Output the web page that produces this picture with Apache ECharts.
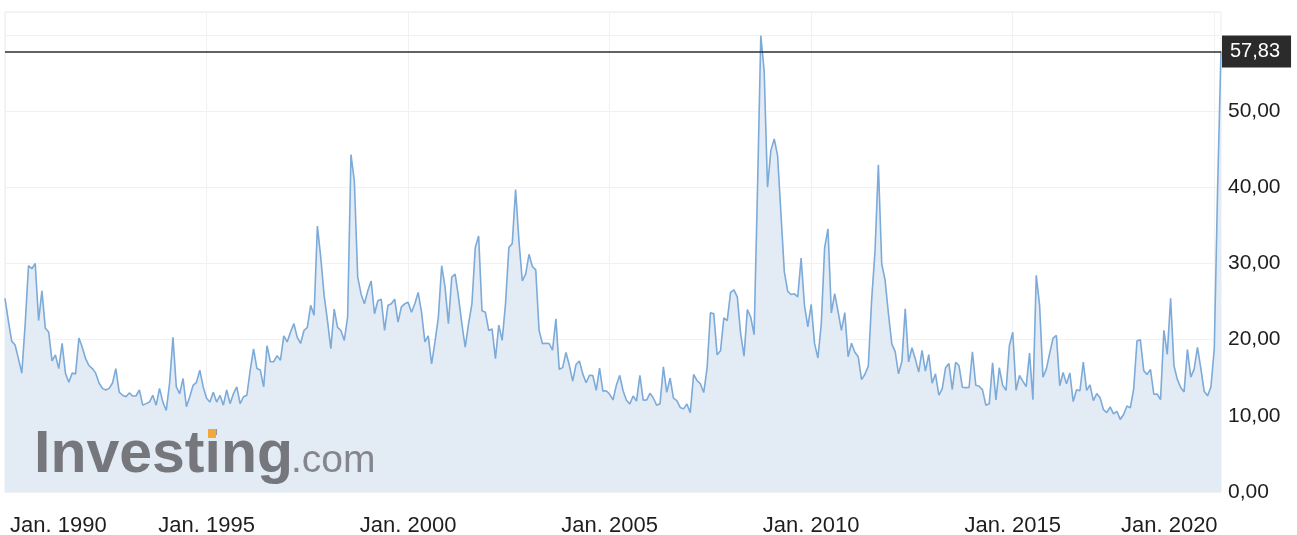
<!DOCTYPE html>
<html>
<head>
<meta charset="utf-8">
<script src="https://cdn.jsdelivr.net/npm/echarts@6/dist/echarts.min.js"></script>
<style>
html, body { margin: 0; padding: 0; background: #ffffff; }
#chart { width: 1297px; height: 535px; }
</style>
</head>
<body>
<div id="chart"></div>
<script>
// Monthly closing values, January 1990 .. March 2020
const startYear = 1990;
const monthNames = ['Jan.', 'Feb.', 'März', 'Apr.', 'Mai', 'Juni', 'Juli', 'Aug.', 'Sept.', 'Okt.', 'Nov.', 'Dez.'];
const v1990 = [25.4, 22.5, 19.8, 19.3, 17.5, 15.6, 22.0, 29.7, 29.3, 30.0, 22.5, 26.4];
const v1991 = [21.5, 21.0, 17.2, 18.0, 16.2, 19.5, 15.6, 14.4, 15.6, 15.5, 20.2, 19.0];
const v1992 = [17.5, 16.6, 16.2, 15.6, 14.3, 13.6, 13.4, 13.6, 14.3, 16.2, 13.1, 12.7];
const v1993 = [12.5, 13.0, 12.6, 12.6, 13.4, 11.4, 11.6, 11.8, 12.7, 11.4, 13.6, 11.8];
const v1994 = [10.7, 14.3, 20.3, 13.8, 12.9, 14.9, 11.2, 12.5, 14.0, 14.4, 16.0, 13.8];
const v1995 = [12.3, 11.8, 13.1, 11.8, 12.7, 11.4, 13.4, 11.6, 12.9, 13.8, 11.6, 12.5];
const v1996 = [12.7, 16.0, 18.8, 16.2, 16.0, 13.8, 19.2, 17.1, 17.1, 17.9, 17.3, 20.5];
const v1997 = [19.7, 21.0, 22.1, 20.3, 19.5, 21.2, 21.6, 24.5, 23.2, 34.9, 30.8, 25.8];
const v1998 = [22.5, 18.8, 24.0, 21.6, 21.2, 19.9, 23.0, 44.3, 40.8, 28.2, 26.0, 24.7];
const v1999 = [26.4, 27.7, 23.4, 25.1, 25.3, 21.2, 24.5, 24.7, 25.3, 22.3, 24.3, 24.7];
const v2000 = [24.9, 23.6, 24.7, 26.2, 23.6, 19.7, 20.5, 16.8, 19.7, 22.9, 29.7, 26.9];
const v2001 = [22.1, 28.2, 28.6, 25.6, 22.1, 19.0, 22.1, 24.7, 32.1, 33.6, 23.8, 23.6];
const v2002 = [21.2, 21.4, 17.5, 21.9, 19.9, 24.7, 32.1, 32.6, 39.7, 33.0, 27.7, 28.6];
const v2003 = [31.2, 29.6, 29.15, 21.2, 19.47, 19.52, 19.49, 18.63, 22.72, 16.1, 16.32, 18.31];
const v2004 = [16.63, 14.55, 16.74, 17.19, 15.5, 14.34, 15.32, 15.29, 13.34, 16.27, 13.24, 13.29];
const v2005 = [12.82, 12.08, 14.02, 15.31, 13.29, 12.04, 11.57, 12.6, 11.92, 15.32, 12.06, 12.07];
const v2006 = [12.95, 12.34, 11.39, 11.59, 16.44, 13.08, 14.95, 12.31, 11.98, 11.1, 10.91, 11.56];
const v2007 = [10.42, 15.42, 14.64, 14.22, 13.05, 16.23, 23.52, 23.38, 18.0, 18.53, 22.87, 22.5];
const v2008 = [26.2, 26.54, 25.61, 20.79, 17.83, 23.95, 22.94, 20.65, 39.39, 59.89, 55.28, 40.0];
const v2009 = [44.84, 46.35, 44.14, 36.5, 28.92, 26.35, 25.92, 26.01, 25.61, 30.69, 24.51, 21.68];
const v2010 = [24.62, 19.5, 17.59, 22.05, 32.07, 34.54, 23.5, 26.05, 23.7, 21.2, 23.54, 17.75];
const v2011 = [19.53, 18.35, 17.74, 14.75, 15.45, 16.52, 25.25, 31.62, 42.96, 29.96, 27.8, 23.4];
const v2012 = [19.44, 18.43, 15.5, 17.15, 24.06, 17.08, 18.93, 17.47, 15.73, 18.6, 15.87, 18.02];
const v2013 = [14.28, 15.51, 12.7, 13.52, 16.3, 16.86, 13.45, 17.01, 16.6, 13.75, 13.7, 13.72];
const v2014 = [18.41, 14.0, 13.88, 13.41, 11.4, 11.57, 16.95, 12.09, 16.31, 14.03, 13.33, 19.2];
const v2015 = [20.97, 13.34, 15.29, 14.55, 13.84, 18.23, 12.12, 28.43, 24.5, 15.07, 16.13, 18.21];
const v2016 = [20.2, 20.55, 13.95, 15.7, 14.19, 15.63, 11.87, 13.42, 13.29, 17.06, 13.33, 14.04];
const v2017 = [11.99, 12.92, 12.37, 10.82, 10.41, 11.18, 10.26, 10.59, 9.51, 10.18, 11.28, 11.04];
const v2018 = [13.54, 19.85, 19.97, 15.93, 15.43, 16.09, 12.83, 12.86, 12.12, 21.23, 18.07, 25.42];
const v2019 = [16.57, 14.78, 13.71, 13.12, 18.71, 15.08, 16.12, 18.98, 16.24, 13.22, 12.62, 13.78];
const v2020 = [18.84, 40.11, 57.83];

const lastPrice = 57.83;
const yTickValues = [0, 10, 20, 30, 40, 50];
const xTickLabels = ['Jan. 1990', 'Jan. 1995', 'Jan. 2000', 'Jan. 2005', 'Jan. 2010', 'Jan. 2015', 'Jan. 2020'];

const values = [].concat(v1990, v1991, v1992, v1993, v1994, v1995, v1996, v1997, v1998, v1999,
  v2000, v2001, v2002, v2003, v2004, v2005, v2006, v2007, v2008, v2009,
  v2010, v2011, v2012, v2013, v2014, v2015, v2016, v2017, v2018, v2019, v2020);
const categories = values.map((_, i) => monthNames[i % 12] + ' ' + (startYear + Math.floor(i / 12)));
const firstTickLabel = xTickLabels[0];
const lastTickLabel = xTickLabels[xTickLabels.length - 1];

const chart = echarts.init(document.getElementById('chart'), null, { renderer: 'canvas' });
const fontFamily = '"Liberation Sans", Arial, Helvetica, sans-serif';

chart.setOption({
  animation: false,
  backgroundColor: '#ffffff',
  textStyle: { fontFamily: fontFamily },
  grid: {
    left: 5, top: 12, right: 76, bottom: 43,
    containLabel: false,
    outerBoundsMode: 'none',
    show: true, borderColor: '#e8ebef', borderWidth: 1, backgroundColor: 'transparent'
  },
  xAxis: {
    type: 'category',
    data: categories,
    boundaryGap: false,
    axisLine: { show: false },
    axisTick: { show: false },
    splitLine: {
      show: true,
      interval: (idx, val) => xTickLabels.includes(val),
      lineStyle: { color: '#eff1f4', width: 1 }
    },
    axisLabel: {
      interval: (idx, val) => xTickLabels.includes(val),
      alignMinLabel: 'left',
      margin: 23,
      color: '#1e1e1e',
      fontSize: 22,
      fontFamily: fontFamily,
      formatter: (val) => val === lastTickLabel ? '{last|' + val + '}' : (val === firstTickLabel ? '{first|' + val + '}' : val),
      rich: {
        first: { fontSize: 22, fontFamily: fontFamily, color: '#1e1e1e', padding: [0, 0, 0, 5] },
        last: { fontSize: 22, fontFamily: fontFamily, color: '#1e1e1e', padding: [0, 90, 0, 0] }
      }
    }
  },
  yAxis: {
    type: 'value',
    position: 'right',
    min: 0,
    max: 63,
    interval: 10,
    axisLine: { show: false },
    axisTick: { show: false },
    splitLine: { show: true, lineStyle: { color: '#eff1f4', width: 1 } },
    axisLabel: {
      margin: 7,
      color: '#1e1e1e',
      fontSize: 21,
      fontFamily: fontFamily,
      formatter: (v) => yTickValues.includes(v) ? v.toFixed(2).replace('.', ',') : ''
    }
  },
  graphic: [
    {
      type: 'text', left: 34, top: 426, z: 100, silent: true,
      style: { text: 'Investing', fontSize: 59, fontWeight: 'bold', fontFamily: fontFamily, fill: 'rgba(108,108,114,0.92)' }
    },
    {
      type: 'text', left: 291, top: 442, z: 100, silent: true,
      style: { text: '.com', fontSize: 39, fontFamily: fontFamily, fill: 'rgba(120,120,126,0.88)' }
    },
    {
      type: 'rect', left: 208, top: 429, z: 101, silent: true,
      shape: { width: 8, height: 9 },
      style: { fill: '#f3a93a' }
    }
  ],
  series: [{
    type: 'line',
    data: values,
    symbol: 'none',
    smooth: false,
    lineStyle: { color: '#7caad9', width: 1.6 },
    areaStyle: { color: '#e3ebf4', opacity: 1 },
    markLine: {
      silent: true,
      symbol: ['none', 'none'],
      lineStyle: { color: '#2e2e2e', width: 1.6, type: 'solid' },
      label: {
        show: true,
        position: 'end',
        distance: 1,
        formatter: () => lastPrice.toFixed(2).replace('.', ','),
        color: '#ffffff',
        fontSize: 20,
        fontFamily: fontFamily,
        backgroundColor: '#2b2b2b',
        padding: [6, 11, 6, 8]
      },
      data: [{ yAxis: lastPrice }]
    }
  }]
});
</script>
</body>
</html>
